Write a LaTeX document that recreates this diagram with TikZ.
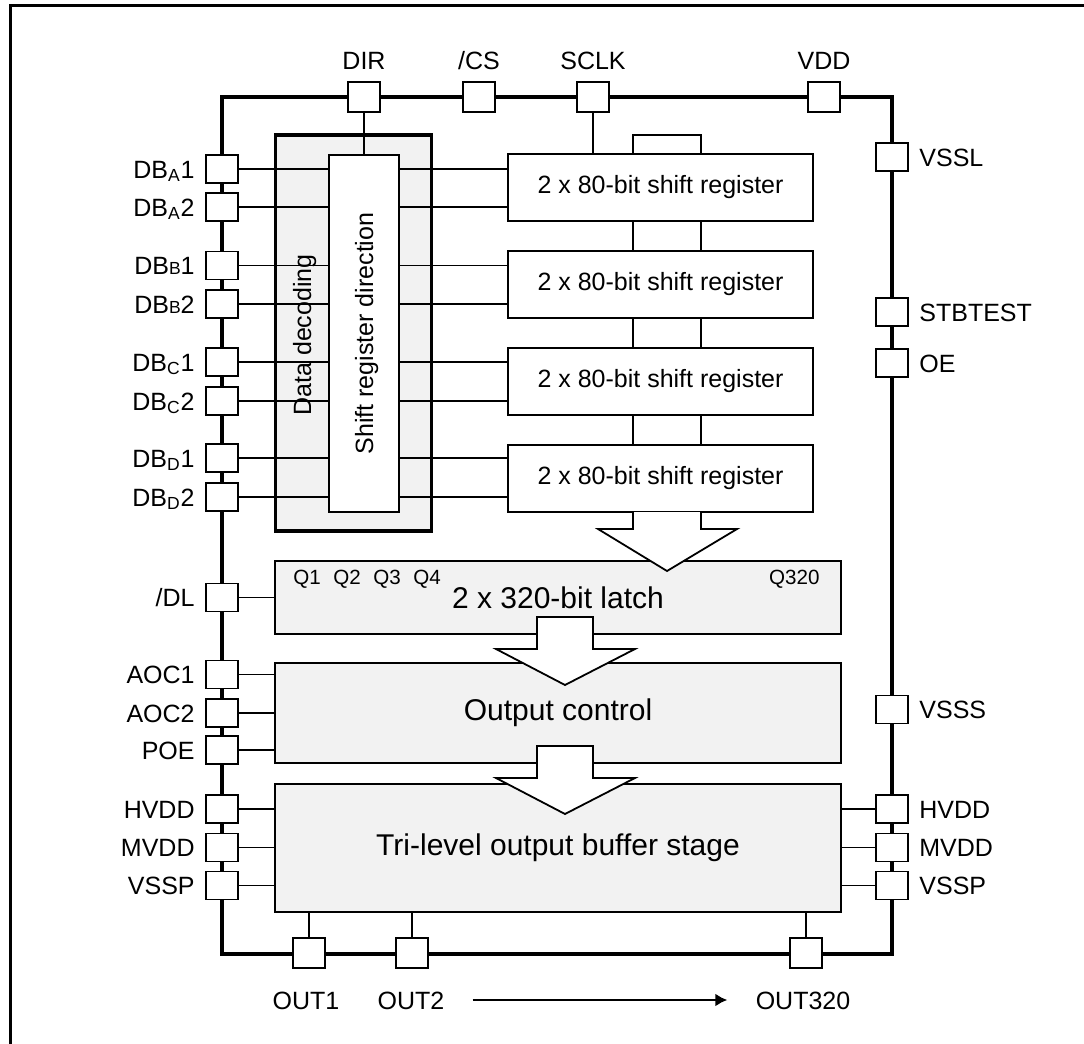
\documentclass[tikz,border=0pt]{standalone}
\usepackage{fontspec}
\setmainfont{Liberation Sans}
\usetikzlibrary{arrows.meta}
\newcommand{\pinfont}{\fontsize{12.5}{15}\selectfont}
\newcommand{\blkfont}{\fontsize{15}{18}\selectfont}
\newcommand{\qfont}{\fontsize{10.3}{12}\selectfont}
\newcommand{\smallB}{{\fontsize{8.75}{10}\selectfont B}}

\begin{document}
\begin{tikzpicture}[
  x=0.5pt, y=-0.5pt,
  pin/.style={draw,fill=white,line width=0.75pt,inner sep=0,outer sep=0,
    minimum width=16pt,minimum height=14pt},
  tpin/.style={pin,minimum height=15pt},
  lbl/.style={inner sep=0,font=\pinfont,text height=9pt,text depth=0pt},
  llbl/.style={lbl,anchor=east},
  rlbl/.style={lbl,anchor=west},
  qlbl/.style={inner sep=0,font=\qfont,text height=7.4pt,text depth=0pt},
  srbox/.style={draw,fill=white,line width=1pt,inner sep=0,outer sep=0,
    minimum width=152.5pt,minimum height=33.5pt,font=\pinfont},
  wide/.style={draw,fill=gray!10,line width=1pt,inner sep=0,outer sep=0,
    minimum width=283pt,font=\blkfont},
  wire/.style={line width=0.65pt},
  blockarrow/.style={draw,fill=white,line width=0.9pt,line join=miter}
]
  \useasboundingbox (0,0) rectangle (1084,1044);
  \draw[line width=1.5pt] (1084,5) -| (10,1044);

  % chip outline
  \draw[line width=2pt] (222,97) rectangle (892,954);

  % decoding block
  \node[draw,fill=gray!10,line width=1.6pt,inner sep=0,outer sep=0,
    minimum width=77.7pt,minimum height=198pt] (dd) at (353.4,333) {};
  \node[rotate=90,lbl] (ddl) at (302,335) {Data decoding};

  % shift registers
  \node[srbox] (sr1) at (660.5,187.5) {2 x 80-bit shift register};
  \node[srbox] (sr2) at (660.5,284.5) {2 x 80-bit shift register};
  \node[srbox] (sr3) at (660.5,381.5) {2 x 80-bit shift register};
  \node[srbox] (sr4) at (660.5,478.5) {2 x 80-bit shift register};
  \coordinate (busl) at (633,0);
  \coordinate (busr) at (701,0);

  % latch, control, buffer
  \node[wide,minimum height=36.5pt] (latch) at (558,597.5) {2 x 320-bit latch};
  \node[qlbl,anchor=west] (q1) at (293,577) {Q1};
  \node[qlbl,anchor=west] (q2) at (333,577) {Q2};
  \node[qlbl,anchor=west] (q3) at (373,577) {Q3};
  \node[qlbl,anchor=west] (q4) at (413,577) {Q4};
  \node[qlbl,anchor=east] (q320) at (820,577) {Q320};
  \node[wide,minimum height=50pt] (ctrl) at (558,713) {Output control};
  \node[wide,minimum height=64pt] (buf) at (558,848) {Tri-level output buffer stage};

  % pins, top
  \node[tpin] (dir) at (364,97) {};   \node[lbl] (dirl) at (364,60) {DIR};
  \node[tpin] (cs) at (479,97) {};    \node[lbl] (csl) at (479,60) {/CS};
  \node[tpin] (sclk) at (593,97) {};  \node[lbl] (sclkl) at (593,60) {SCLK};
  \node[tpin] (vdd) at (824,97) {};   \node[lbl] (vddl) at (824,60) {VDD};

  % pins, left
  \node[pin] (dba1) at (222,169) {};  \node[llbl] (dba1l) at (195,169) {DB\textsubscript{A}1};
  \node[pin] (dba2) at (222,207) {};  \node[llbl] (dba2l) at (195,207) {DB\textsubscript{A}2};
  \node[pin] (dbb1) at (222,265.5) {}; \node[llbl] (dbb1l) at (195,265.5) {DB\smallB1};
  \node[pin] (dbb2) at (222,304) {};  \node[llbl] (dbb2l) at (195,304) {DB\smallB2};
  \node[pin] (dbc1) at (222,362) {};  \node[llbl] (dbc1l) at (195,362) {DB\textsubscript{C}1};
  \node[pin] (dbc2) at (222,401) {};  \node[llbl] (dbc2l) at (195,401) {DB\textsubscript{C}2};
  \node[pin] (dbd1) at (222,458) {};  \node[llbl] (dbd1l) at (195,458) {DB\textsubscript{D}1};
  \node[pin] (dbd2) at (222,497) {};  \node[llbl] (dbd2l) at (195,497) {DB\textsubscript{D}2};
  \node[pin] (dl) at (222,597.5) {};  \node[llbl] (dll) at (195,597.5) {/DL};
  \node[pin] (aoc1) at (222,674.5) {}; \node[llbl] (aoc1l) at (195,674.5) {AOC1};
  \node[pin] (aoc2) at (222,713) {};  \node[llbl] (aoc2l) at (195,713) {AOC2};
  \node[pin] (poe) at (222,750) {};   \node[llbl] (poel) at (195,750) {POE};
  \node[pin] (hvddl) at (222,809) {}; \node[llbl] (hvddll) at (195,809) {HVDD};
  \node[pin] (mvddl) at (222,847.5) {}; \node[llbl] (mvddll) at (195,847.5) {MVDD};
  \node[pin] (vsspl) at (222,885.5) {}; \node[llbl] (vsspll) at (195,885.5) {VSSP};

  % pins, right
  \node[pin] (vssl) at (892,157) {};  \node[rlbl] (vssll) at (919,157) {VSSL};
  \node[pin] (stb) at (892,312) {};   \node[rlbl] (stbl) at (919,312) {STBTEST};
  \node[pin] (oe) at (892,363) {};    \node[rlbl] (oel) at (919,363) {OE};
  \node[pin] (vsss) at (892,709.5) {}; \node[rlbl] (vsssl) at (919,709.5) {VSSS};
  \node[pin] (hvddr) at (892,809) {}; \node[rlbl] (hvddrl) at (919,809) {HVDD};
  \node[pin] (mvddr) at (892,847.5) {}; \node[rlbl] (mvddrl) at (919,847.5) {MVDD};
  \node[pin] (vsspr) at (892,885.5) {}; \node[rlbl] (vssprl) at (919,885.5) {VSSP};

  % pins, bottom
  \node[tpin] (out1) at (309,953) {};   \node[lbl] (out1l) at (306,1000) {OUT1};
  \node[tpin] (out2) at (412,953) {};   \node[lbl] (out2l) at (411,1000) {OUT2};
  \node[tpin] (out320) at (806,953) {}; \node[lbl] (out320l) at (803,1000) {OUT320};

  % wiring
  \draw[wire] (dba1.east) -- (sr1.west |- dba1.east);
  \draw[wire] (dba2.east) -- (sr1.west |- dba2.east);
  \draw[wire] (dbb1.east) -- (sr2.west |- dbb1.east);
  \draw[wire] (dbb2.east) -- (sr2.west |- dbb2.east);
  \draw[wire] (dbc1.east) -- (sr3.west |- dbc1.east);
  \draw[wire] (dbc2.east) -- (sr3.west |- dbc2.east);
  \draw[wire] (dbd1.east) -- (sr4.west |- dbd1.east);
  \draw[wire] (dbd2.east) -- (sr4.west |- dbd2.east);

  \node[draw,fill=white,line width=1pt,inner sep=0,outer sep=0,
    minimum width=35pt,minimum height=178.5pt] (srd) at (364,333.5) {};
  \node[rotate=90,lbl] (srdl) at (srd) {Shift register direction};

  \draw[wire] (dir.south) -- (srd.north);
  \draw[wire] (sclk.south) -- (sr1.north -| sclk.south);
  \draw[wire] (sr1.north -| busl) |- ++(0,-19) -| (sr1.north -| busr);
  \draw[wire] (sr1.south -| busl) -- (sr2.north -| busl);
  \draw[wire] (sr1.south -| busr) -- (sr2.north -| busr);
  \draw[wire] (sr2.south -| busl) -- (sr3.north -| busl);
  \draw[wire] (sr2.south -| busr) -- (sr3.north -| busr);
  \draw[wire] (sr3.south -| busl) -- (sr4.north -| busl);
  \draw[wire] (sr3.south -| busr) -- (sr4.north -| busr);

  \draw[wire] (dl.east) -- (latch.west |- dl.east);
  \draw[wire] (aoc1.east) -- (ctrl.west |- aoc1.east);
  \draw[wire] (aoc2.east) -- (ctrl.west |- aoc2.east);
  \draw[wire] (poe.east) -- (ctrl.west |- poe.east);
  \draw[wire] (hvddl.east) -- (buf.west |- hvddl.east);
  \draw[wire] (mvddl.east) -- (buf.west |- mvddl.east);
  \draw[wire] (vsspl.east) -- (buf.west |- vsspl.east);
  \draw[wire] (hvddr.west) -- (buf.east |- hvddr.west);
  \draw[wire] (mvddr.west) -- (buf.east |- mvddr.west);
  \draw[wire] (vsspr.west) -- (buf.east |- vsspr.west);
  \draw[wire] (out1.north) -- (buf.south -| out1.north);
  \draw[wire] (out2.north) -- (buf.south -| out2.north);
  \draw[wire] (out320.north) -- (buf.south -| out320.north);

  % block arrows
  \draw[blockarrow] (sr4.south -| busl) -- (633,529) -- (598,529) -- (667,571)
    -- (737,529) -- (701,529) -- (sr4.south -| busr);
  \draw[blockarrow] (537,617) -- (593,617) -- (593,649) -- (635,649) -- (565,685)
    -- (496,649) -- (537,649) -- cycle;
  \draw[blockarrow] (537,746) -- (593,746) -- (593,778) -- (635,778) -- (565,814)
    -- (496,778) -- (537,778) -- cycle;

  \draw[-{Latex[length=6pt,width=6.5pt]},line width=1.2pt,
    shorten <=14pt,shorten >=14pt] (out2l.east) -- (out320l.west);
\end{tikzpicture}
\end{document}
